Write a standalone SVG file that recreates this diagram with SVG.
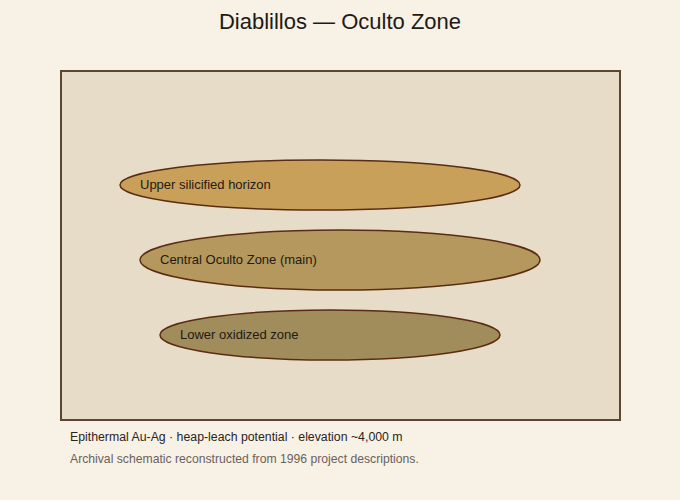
<svg xmlns="http://www.w3.org/2000/svg" width="680" height="500" viewBox="0 0 680 500">
<style>
.zone{stroke:#5a2c12;stroke-width:1.5}
.lbl{font-family:"Liberation Sans",Arial,sans-serif;font-size:13px;fill:#1e1a14}
</style>
<rect x="0" y="0" width="680" height="500" fill="#f8f1e6"/>
<text x="340" y="29" text-anchor="middle" font-family="Liberation Sans, Arial, sans-serif" font-size="22" fill="#1e1a14">Diablillos — Oculto Zone</text>
<rect x="61" y="71" width="559" height="349" fill="#e7dcc8" stroke="#5c4630" stroke-width="2"/>
<g id="connectors"></g>
<g id="upper">
<ellipse class="zone" cx="320" cy="185" rx="200" ry="25" fill="#c9a05a"/>
<text class="lbl" x="140" y="189">Upper silicified horizon</text>
</g>
<g id="central">
<ellipse class="zone" cx="340" cy="260" rx="200" ry="30" fill="#b5985d"/>
<text class="lbl" x="160" y="264">Central Oculto Zone (main)</text>
</g>
<g id="lower">
<ellipse class="zone" cx="330" cy="335" rx="170" ry="25" fill="#a18c5b"/>
<text class="lbl" x="180" y="339">Lower oxidized zone</text>
</g>
<text x="70" y="441" font-family="Liberation Sans, Arial, sans-serif" font-size="12.3" fill="#2a2520">Epithermal Au-Ag · heap-leach potential · elevation ~4,000 m</text>
<text x="70" y="463" font-family="Liberation Sans, Arial, sans-serif" font-size="12.2" fill="#6a625a">Archival schematic reconstructed from 1996 project descriptions.</text>
</svg>
